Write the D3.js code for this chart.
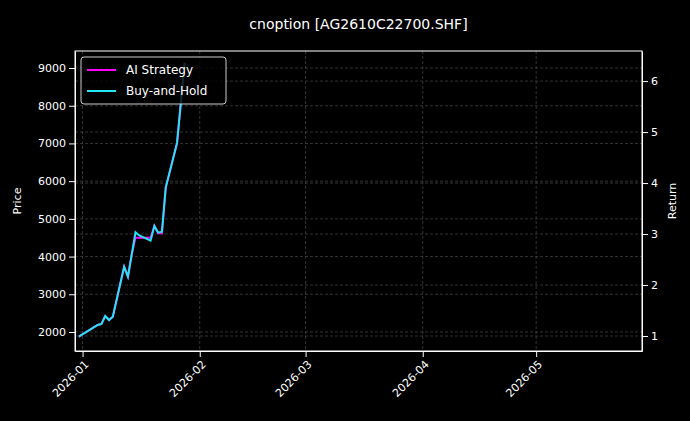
<!DOCTYPE html>
<html>
<head>
<meta charset="utf-8">
<script src="https://cdn.jsdelivr.net/npm/d3@7"></script>
<style>
  body { margin: 0; background: #000; }
  text { font-family: "DejaVu Sans", sans-serif; fill: #fff; }
</style>
</head>
<body>
<svg width="690" height="421"></svg>
<script>
const dates = ["2025-12-31","2026-01-05","2026-01-06","2026-01-07","2026-01-08","2026-01-09",
  "2026-01-12","2026-01-13","2026-01-14","2026-01-15","2026-01-16","2026-01-19","2026-01-20",
  "2026-01-21","2026-01-22","2026-01-23","2026-01-26","2026-01-27","2026-01-28"];
const buyHold = [1875,2186,2212,2424,2318,2406,3732,3467,4050,4645,4560,4422,4812,4634,4660,5830,7013,8074,9135];
const aiStrategy = [1875,2186,2212,2424,2318,2406,3732,3467,4050,4500,4500,4500,4812,4620,4620,5830,7013,8074,9135];
const priceTicks = [2000,3000,4000,5000,6000,7000,8000,9000];
const returnTicks = [1,2,3,4,5,6];
const monthTicks = ["2026-01-01","2026-02-01","2026-03-01","2026-04-01","2026-05-01"];

const parse = d3.timeParse("%Y-%m-%d");
const mLeft = 75, mRight = 642, mTop = 51, mBottom = 351;

const svg = d3.select("svg");
svg.append("rect").attr("width", 690).attr("height", 421).attr("fill", "#000");

const x = d3.scaleTime()
  .domain([parse("2025-12-30"), parse("2026-05-29")])
  .range([mLeft, mRight]);
const y = d3.scaleLinear().domain([1496, 9451]).range([mBottom, mTop]);
const yr = d3.scaleLinear().domain([0.706, 6.59]).range([mBottom, mTop]);

const grid = svg.append("g")
  .attr("stroke", "#555").attr("stroke-width", 0.6).attr("stroke-dasharray", "3,2");
monthTicks.forEach(m => {
  grid.append("line").attr("x1", x(parse(m))).attr("x2", x(parse(m)))
    .attr("y1", mTop).attr("y2", mBottom);
});
priceTicks.forEach(v => {
  grid.append("line").attr("x1", mLeft).attr("x2", mRight).attr("y1", y(v)).attr("y2", y(v));
});
returnTicks.forEach(v => {
  grid.append("line").attr("x1", mLeft).attr("x2", mRight).attr("y1", yr(v)).attr("y2", yr(v));
});

const line = d3.line().x((d, i) => x(parse(dates[i]))).y(d => y(d));

svg.append("path").datum(aiStrategy).attr("d", line)
  .attr("fill", "none").attr("stroke", "#ff00ff").attr("stroke-width", 2);
svg.append("path").datum(buyHold).attr("d", line)
  .attr("fill", "none").attr("stroke", "#22e5f5").attr("stroke-width", 2);

svg.append("rect").attr("x", mLeft).attr("y", mTop)
  .attr("width", mRight - mLeft).attr("height", mBottom - mTop)
  .attr("fill", "none").attr("stroke", "#fff").attr("stroke-width", 1);

// axes
const xAxis = svg.append("g").attr("transform", `translate(0,${mBottom})`)
  .call(d3.axisBottom(x).tickValues(monthTicks.map(parse)).tickFormat(d3.timeFormat("%Y-%m")).tickSizeOuter(0));
xAxis.selectAll("text")
  .attr("transform", "rotate(-45)").attr("text-anchor", "end")
  .attr("dx", "-0.5em").attr("dy", "0.5em").style("font-size", "11px");

const yAxis = svg.append("g").attr("transform", `translate(${mLeft},0)`)
  .call(d3.axisLeft(y).tickValues(priceTicks).tickFormat(d3.format("d")).tickSizeOuter(0));
yAxis.selectAll("text").style("font-size", "11px");

const yrAxis = svg.append("g").attr("transform", `translate(${mRight},0)`)
  .call(d3.axisRight(yr).tickValues(returnTicks).tickFormat(d3.format("d")).tickSizeOuter(0));
yrAxis.selectAll("text").style("font-size", "11px");

[xAxis, yAxis, yrAxis].forEach(a => {
  a.select(".domain").attr("stroke", "#fff");
  a.selectAll(".tick line").attr("stroke", "#fff");
  a.selectAll("text").style("fill", "#fff");
});

svg.append("text").attr("x", (mLeft + mRight) / 2).attr("y", 29)
  .attr("text-anchor", "middle").style("font-size", "14px").text("cnoption [AG2610C22700.SHF]");
svg.append("text").attr("transform", `translate(21,${(mTop + mBottom) / 2}) rotate(-90)`)
  .attr("text-anchor", "middle").style("font-size", "11px").text("Price");
svg.append("text").attr("transform", `translate(676,${(mTop + mBottom) / 2}) rotate(-90)`)
  .attr("text-anchor", "middle").style("font-size", "11px").text("Return");

// legend
const lg = svg.append("g").attr("transform", "translate(81,57)");
lg.append("rect").attr("width", 145).attr("height", 47).attr("rx", 3)
  .attr("fill", "#000").attr("fill-opacity", 0.8).attr("stroke", "#ccc");
[["AI Strategy", "#ff00ff"], ["Buy-and-Hold", "#22e5f5"]].forEach(([name, c], i) => {
  const yy = 13 + i * 21;
  lg.append("line").attr("x1", 6).attr("x2", 35).attr("y1", yy).attr("y2", yy)
    .attr("stroke", c).attr("stroke-width", 2);
  lg.append("text").attr("x", 45).attr("y", yy + 4).style("font-size", "12px").text(name);
});
</script>
</body>
</html>
